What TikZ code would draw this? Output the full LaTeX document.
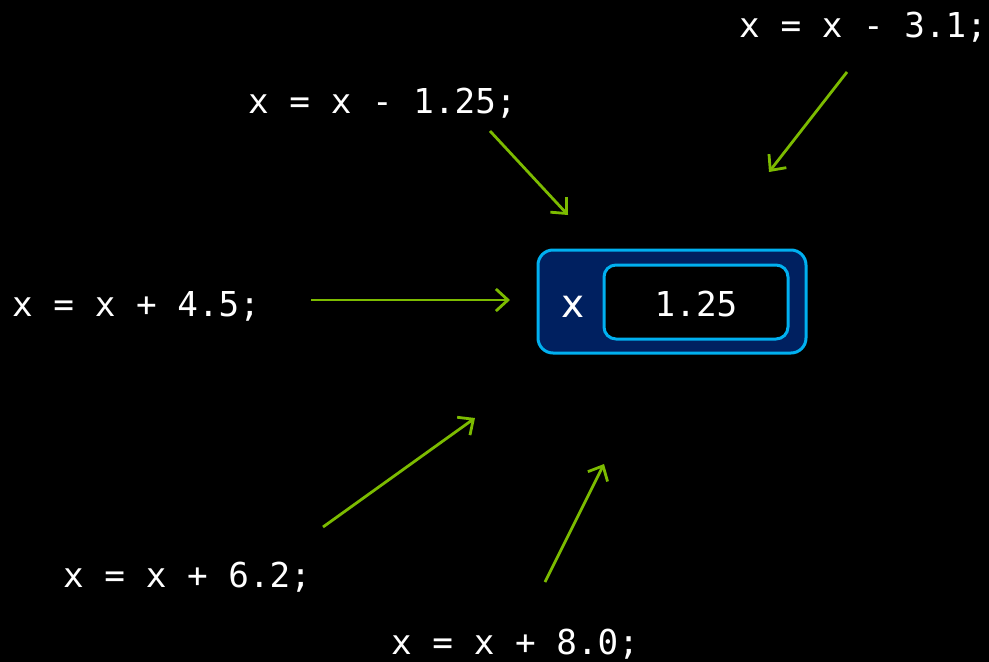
\documentclass[tikz,border=0pt]{standalone}
\usepackage{fontspec}
\setmonofont{DejaVu Sans Mono}
\newfontfamily\boxsans{DejaVu Sans}
\usetikzlibrary{arrows.meta}
\definecolor{arrowgreen}{HTML}{7CBB00}
\definecolor{navy}{HTML}{002060}
\definecolor{cyanedge}{HTML}{00B0F0}
\tikzset{
  code/.style={text=white, font=\ttfamily\fontsize{34.3}{41}\selectfont, inner sep=0pt, anchor=base west},
  push/.style={draw=arrowgreen, line width=2.8pt, -{Straight Barb[length=12pt,width=22pt,line width=2.8pt]}},
  outerbox/.style={draw=cyanedge, fill=navy, line width=3pt, rounded corners=15pt},
  innerbox/.style={draw=cyanedge, fill=black, line width=3pt, rounded corners=12pt},
}
\begin{document}
\begin{tikzpicture}[x=1pt,y=-1pt]
\fill[black] (0,0) rectangle (989,662);
\useasboundingbox (0,0) rectangle (989,662);

% variable box
\draw[outerbox] (538,250) rectangle (806,353);
\draw[innerbox] (604,265) rectangle (788,339);
\node[text=white, font=\boxsans\fontsize{39}{46}\selectfont, inner sep=0pt, anchor=base] (xlabel) at (573,317) {x};
\node[code, anchor=base] (val) at (696,316) {1.25};

% statements
\node[code] (s1) at (739,37) {x = x - 3.1;};
\node[code] (s2) at (248,113) {x = x - 1.25;};
\node[code] (s3) at (12,316) {x = x + 4.5;};
\node[code] (s4) at (63,587) {x = x + 6.2;};
\node[code] (s5) at (391,654) {x = x + 8.0;};

% arrow ends
\coordinate (a1s) at (847,72);  \coordinate (a1e) at (769,172);
\coordinate (a2s) at (490,131); \coordinate (a2e) at (568,215);
\coordinate (a3s) at (311,300); \coordinate (a3e) at (510,300);
\coordinate (a4s) at (323,527); \coordinate (a4e) at (475,418);
\coordinate (a5s) at (545,582); \coordinate (a5e) at (604,464);

\draw[push] (a1s) -- (a1e);
\draw[push] (a2s) -- (a2e);
\draw[push] (a3s) -- (a3e);
\draw[push] (a4s) -- (a4e);
\draw[push] (a5s) -- (a5e);
\end{tikzpicture}
\end{document}
